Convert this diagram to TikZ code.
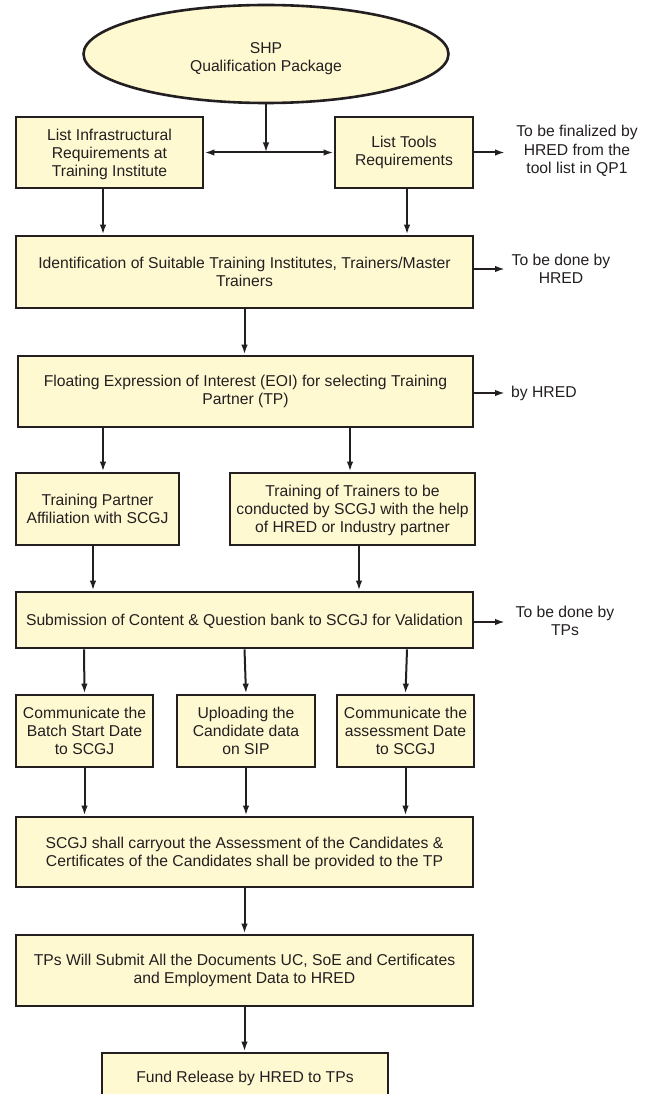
\documentclass[tikz,border=0pt]{standalone}
\usepackage{fontspec}
\setmainfont{Liberation Sans}
\usetikzlibrary{arrows.meta,shapes.geometric,calc}
\definecolor{boxfill}{RGB}{255,249,210}
\definecolor{ink}{RGB}{35,31,32}
\tikzset{
  stepbox/.style={draw=ink, fill=boxfill, line width=2.8pt, rectangle, inner sep=0pt, align=center, text=ink,
    font=\fontsize{15.7}{18.3}\selectfont},
  oval/.style={draw=ink, fill=boxfill, line width=2.6pt, ellipse, inner sep=0pt, align=center, text=ink,
    font=\fontsize{15.7}{18.3}\selectfont},
  note/.style={inner sep=0pt, align=center, text=ink, font=\fontsize{15.7}{18.3}\selectfont},
  arr/.style={draw=ink, line width=2pt, -{Latex[length=10pt,width=6.5pt]}},
  darr/.style={draw=ink, line width=2pt, {Latex[length=10pt,width=6.5pt]}-{Latex[length=10pt,width=6.5pt]}},
}
\begin{document}
\begin{tikzpicture}[x=1pt,y=-1pt]
\useasboundingbox (0,0) rectangle (646,1094);
\clip (0,0) rectangle (646,1094);
% nodes
\node[oval, minimum width=365pt, minimum height=98pt] (e) at (266,54) {\rule{0pt}{20pt}SHP\\Qualification Package};
\node[stepbox, minimum width=187pt, minimum height=71pt] (A) at (109.5,152.5) {\rule{0pt}{15pt}List Infrastructural\\Requirements at\\Training Institute};
\node[stepbox, minimum width=138pt, minimum height=71pt] (B) at (404,152.5) {List Tools\\Requirements};
\node[note] (L1) at (577,151) {To be finalized by\\HRED from the\\tool list in QP1};
\node[stepbox, minimum width=457pt, minimum height=72pt] (C) at (244.5,272) {Identification of Suitable Training Institutes, Trainers/Master\\Trainers};
\node[note] (L2) at (561,269) {To be done by\\HRED};
\node[stepbox, minimum width=455pt, minimum height=71pt] (D) at (245.5,391.5) {Floating Expression of Interest (EOI) for selecting Training\\Partner (TP)};
\node[note, anchor=west] (L3) at (511,393) {by HRED};
\node[stepbox, minimum width=163pt, minimum height=72pt] (E) at (97.5,509) {Training Partner\\Affiliation with SCGJ};
\node[stepbox, minimum width=245pt, minimum height=72pt] (F) at (352.5,509) {\rule{0pt}{14pt}Training of Trainers to be\\conducted by SCGJ with the help\\of HRED or Industry partner};
\node[stepbox, minimum width=457pt, minimum height=56pt] (G) at (244.5,620) {\rule{0pt}{14pt}Submission of Content \& Question bank to SCGJ for Validation};
\node[note] (L4) at (565,621) {To be done by\\TPs};
\node[stepbox, minimum width=137pt, minimum height=72pt] (H1) at (84.5,731) {Communicate the\\Batch Start Date\\to SCGJ};
\node[stepbox, minimum width=138pt, minimum height=72pt] (H2) at (246,731) {Uploading the\\Candidate data\\on SIP};
\node[stepbox, minimum width=137pt, minimum height=72pt] (H3) at (405.5,731) {Communicate the\\assessment Date\\to SCGJ};
\node[stepbox, minimum width=457pt, minimum height=70pt] (I) at (244.5,852) {\rule{0pt}{14pt}SCGJ shall carryout the Assessment of the Candidates \&\\Certificates of the Candidates shall be provided to the TP};
\node[stepbox, minimum width=457pt, minimum height=71pt] (J) at (244.5,970.5) {TPs Will Submit All the Documents UC, SoE and Certificates\\and Employment Data to HRED};
\node[stepbox, minimum width=286pt, minimum height=50pt] (K) at (245,1078) {Fund Release by HRED to TPs};
% helper coordinates
\coordinate (a1) at ([xshift=-6.5pt]A.south);
\coordinate (b1) at ([xshift=3pt]B.south);
\coordinate (d1) at ([xshift=-142.5pt]D.south);
\coordinate (d2) at ([xshift=104.5pt]D.south);
\coordinate (e1) at ([xshift=-4.5pt]E.south);
\coordinate (f1) at ([xshift=6.5pt]F.south);
\coordinate (g1) at ([xshift=-160.5pt]G.south);
\coordinate (g3) at ([xshift=162.5pt]G.south);
\coordinate (r1) at (505,152.5);
\coordinate (r2) at (505,269);
\coordinate (r3) at (505,393);
\coordinate (r4) at (505,622);
% connectors
\draw[arr] (e.south) -- (e.south |- A.east);
\draw[darr] (A.east) -- (B.west);
\draw[arr] (B.east) -- (r1);
\draw[arr] (a1) -- (a1 |- C.north);
\draw[arr] (b1) -- (b1 |- C.north);
\draw[arr] (C.east |- r2) -- (r2);
\draw[arr] (C.south) -- (C.south |- D.north);
\draw[arr] (D.east |- r3) -- (r3);
\draw[arr] (d1) -- (d1 |- E.north);
\draw[arr] (d2) -- (d2 |- F.north);
\draw[arr] (e1) -- (e1 |- G.north);
\draw[arr] (f1) -- (f1 |- G.north);
\draw[arr] (G.east |- r4) -- (r4);
\draw[arr] (g1) -- (H1.north);
\draw[arr] (G.south) -- (H2.north);
\draw[arr] (g3) -- (H3.north);
\draw[arr] (H1.south) -- (H1.south |- I.north);
\draw[arr] (H2.south) -- (H2.south |- I.north);
\draw[arr] (H3.south) -- (H3.south |- I.north);
\draw[arr] (I.south) -- (I.south |- J.north);
\draw[arr] (J.south) -- (J.south |- K.north);
\end{tikzpicture}
\end{document}
